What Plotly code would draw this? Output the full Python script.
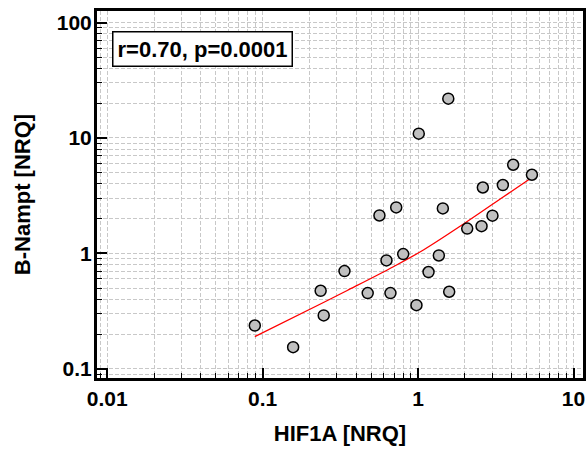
import plotly.graph_objects as go

# Data (HIF1A vs B-Nampt, NRQ)
hif1a = [0.089, 0.157, 0.236, 0.247, 0.336, 0.474, 0.564, 0.626, 0.664, 0.723,
         0.802, 0.976, 1.01, 1.167, 1.36, 1.443, 1.564, 1.585, 2.07, 2.56,
         2.61, 3.01, 3.51, 4.09, 5.40]
b_nampt = [0.237, 0.154, 0.474, 0.29, 0.702, 0.453, 2.13, 0.868, 0.453, 2.50,
           0.986, 0.356, 10.9, 0.689, 0.959, 2.45, 21.9, 0.465, 1.64, 1.72,
           3.72, 2.12, 3.91, 5.86, 4.80]

# Smoothed trend line
fit_x = [0.089, 0.2535, 0.35, 0.698, 1.088, 1.97, 3.565, 5.40]
fit_y = [0.19, 0.383, 0.477, 0.77, 1.075, 1.805, 3.11, 4.55]

x_tickvals = [0.01, 0.1, 1, 10]
x_ticktext = ["0.01", "0.1", "1", "10"]
y_tickvals = [0.1, 1, 10, 100]
y_ticktext = ["0.1", "1", "10", "100"]

stat_label = "r=0.70, p=0.0001"

minor_x = [m * 10 ** e for e in range(-3, 2) for m in range(2, 10)]
minor_y = [m * 10 ** e for e in range(-2, 3) for m in range(2, 10)]

FONT = "Liberation Sans, Arial, sans-serif"
GRID = "#c8c8c8"
DASH = "4px,2px"

fig = go.Figure()
fig.add_trace(go.Scatter(x=fit_x, y=fit_y, mode="lines",
                         line=dict(color="#ff0000", width=1.3, shape="spline"),
                         hoverinfo="skip", showlegend=False))
fig.add_trace(go.Scatter(x=hif1a, y=b_nampt, mode="markers",
                         marker=dict(size=11, color="#c0c0c0",
                                     line=dict(color="#000000", width=1.5)),
                         showlegend=False))

axis_common = dict(
    type="log", showline=True, linecolor="#000000", linewidth=3, mirror=True,
    ticks="inside", ticklen=10, tickwidth=1.5, tickcolor="#000000",
    showgrid=True, gridcolor=GRID, griddash=DASH, gridwidth=1,
    zeroline=False, tickmode="array", automargin=False,
    tickfont=dict(family=FONT, size=21, color="#000000", weight="bold"),
)

fig.update_xaxes(
    **axis_common, range=[-2.066, 1.061],
    tickvals=x_tickvals, ticktext=x_ticktext,
    minor=dict(tickmode="array", tickvals=minor_x, ticks="inside", ticklen=5,
               tickcolor="#000000", tickwidth=1,
               showgrid=True, gridcolor=GRID, griddash=DASH, gridwidth=1),
    title=dict(text="HIF1A [NRQ]", standoff=17,
               font=dict(family=FONT, size=22, color="#000000", weight="bold")),
)
fig.update_yaxes(
    **axis_common, range=[-1.08, 2.10],
    tickvals=y_tickvals, ticktext=y_ticktext, ticklabelstandoff=-2,
    minor=dict(tickmode="array", tickvals=minor_y, ticks="inside", ticklen=5,
               tickcolor="#000000", tickwidth=1,
               showgrid=True, gridcolor=GRID, griddash=DASH, gridwidth=1),
    title=dict(text="B-Nampt [NRQ]", standoff=21,
               font=dict(family=FONT, size=22, color="#000000", weight="bold")),
)

fig.add_annotation(
    xref="paper", yref="paper", x=0.031, y=0.9455, xanchor="left", yanchor="top",
    text=stat_label, showarrow=False, align="left",
    font=dict(family=FONT, size=22, color="#000000", weight="bold"),
    bgcolor="#ffffff", bordercolor="#000000", borderwidth=1.5, borderpad=4,
)

fig.update_layout(
    width=587, height=453,
    margin=dict(l=97, r=4, t=11, b=75),
    paper_bgcolor="#ffffff", plot_bgcolor="#ffffff",
    font=dict(family=FONT, color="#000000"),
)

fig.write_html(
    "out.html",
    config={"displayModeBar": False},
    post_script="document.body.style.margin='0';document.body.style.overflow='hidden';",
)
